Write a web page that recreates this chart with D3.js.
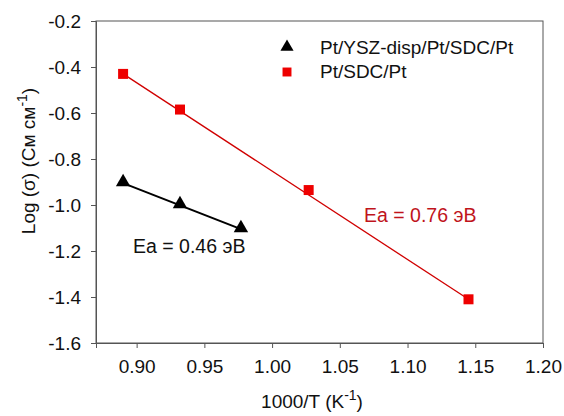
<!DOCTYPE html>
<html>
<head>
<meta charset="utf-8">
<script src="https://cdn.jsdelivr.net/npm/d3@7"></script>
<style>
  body { margin: 0; background: #fff; }
  text { font-family: "Liberation Sans", Arial, sans-serif; }
</style>
</head>
<body>
<div id="chart"></div>
<script>
// data
let redX = [0.890, 0.932, 1.027, 1.145];
let redY = [-0.43, -0.585, -0.935, -1.41];
let blackX = [0.890, 0.932, 0.977];
let blackY = [-0.905, -1.0, -1.105];
let xTicks = [0.90, 0.95, 1.00, 1.05, 1.10, 1.15, 1.20];
let yTicks = [-0.2, -0.4, -0.6, -0.8, -1.0, -1.2, -1.4, -1.6];
let legendNames = ['Pt/YSZ-disp/Pt/SDC/Pt', 'Pt/SDC/Pt'];

let w = 564, h = 416;
let m = {left: 96, right: 21, top: 21, bottom: 73};

let svg = d3.select('#chart').append('svg').attr('width', w).attr('height', h);

let x = d3.scaleLinear().domain([0.87, 1.20]).range([m.left, w - m.right]);
let y = d3.scaleLinear().domain([-1.6, -0.2]).range([h - m.bottom, m.top]);

// frame
svg.append('rect')
  .attr('x', m.left).attr('y', m.top)
  .attr('width', w - m.right - m.left).attr('height', h - m.bottom - m.top)
  .attr('fill', 'none').attr('stroke', '#555').attr('stroke-width', 1);

let xAxis = svg.append('g').attr('transform', 'translate(0,' + (h - m.bottom) + ')')
  .call(d3.axisBottom(x).tickValues(xTicks).tickSize(5).tickPadding(12).tickFormat(d3.format('.2f')));
let yAxis = svg.append('g').attr('transform', 'translate(' + m.left + ',0)')
  .call(d3.axisLeft(y).tickValues(yTicks).tickSize(5).tickPadding(10).tickFormat(d3.format('.1f')));

[xAxis, yAxis].forEach(a => {
  a.select('.domain').attr('stroke', '#555');
  a.selectAll('.tick line').attr('stroke', '#555');
  a.selectAll('text').attr('fill', '#111').style('font-size', '19px')
    .style('font-family', '"Liberation Sans", Arial, sans-serif');
});
yAxis.selectAll('text').text(d => d.toFixed(1));

let line = d3.line().x(d => x(d[0])).y(d => y(d[1]));
let red = redX.map((v, i) => [v, redY[i]]);
let black = blackX.map((v, i) => [v, blackY[i]]);

svg.append('path').attr('d', line([red[0], red[red.length - 1]]))
  .attr('stroke', '#d00000').attr('stroke-width', 1.3).attr('fill', 'none');
svg.append('path').attr('d', line([black[0], black[black.length - 1]]))
  .attr('stroke', '#000').attr('stroke-width', 2).attr('fill', 'none');

let sq = d3.symbol().type(d3.symbolSquare).size(100);
let tri = d3.symbol().type(d3.symbolTriangle).size(90);

svg.selectAll('.red').data(red).enter().append('path')
  .attr('transform', d => 'translate(' + x(d[0]) + ',' + y(d[1]) + ')')
  .attr('d', sq).attr('fill', '#ee0000');
svg.selectAll('.blk').data(black).enter().append('path')
  .attr('transform', d => 'translate(' + x(d[0]) + ',' + (y(d[1]) - 1) + ')')
  .attr('d', tri).attr('fill', '#000');

// legend
let legend = svg.append('g').attr('transform', 'translate(287,47)');
legend.append('path').attr('d', d3.symbol().type(d3.symbolTriangle).size(75)).attr('fill', '#000');
legend.append('path').attr('d', d3.symbol().type(d3.symbolSquare).size(80)).attr('fill', '#ee0000')
  .attr('transform', 'translate(0,25)');
legend.selectAll('text').data(legendNames).enter().append('text')
  .attr('x', 33).attr('y', (d, i) => i * 24 + 7)
  .style('font-size', '19px').attr('fill', '#111').text(d => d);

// annotations
svg.append('text').attr('x', 133).attr('y', 253).style('font-size', '19.5px')
  .attr('fill', '#111').text('Ea = 0.46 эВ');
svg.append('text').attr('x', 364).attr('y', 222).style('font-size', '19.5px')
  .attr('fill', '#c0141c').text('Ea = 0.76 эВ');

// axis titles
let xt = svg.append('text').attr('x', 312).attr('y', 408).attr('text-anchor', 'middle')
  .style('font-size', '19px').attr('fill', '#111');
xt.append('tspan').text('1000/T (K');
xt.append('tspan').attr('dy', -8).style('font-size', '14px').text('-1');
xt.append('tspan').attr('dy', 8).text(')');

let yt = svg.append('text').attr('transform', 'translate(35,161) rotate(-90)')
  .attr('text-anchor', 'middle').style('font-size', '19px').attr('fill', '#111');
yt.append('tspan').text('Log (σ) (См см');
yt.append('tspan').attr('dy', -8).style('font-size', '14px').text('-1');
yt.append('tspan').attr('dy', 8).text(')');
</script>
</body>
</html>
